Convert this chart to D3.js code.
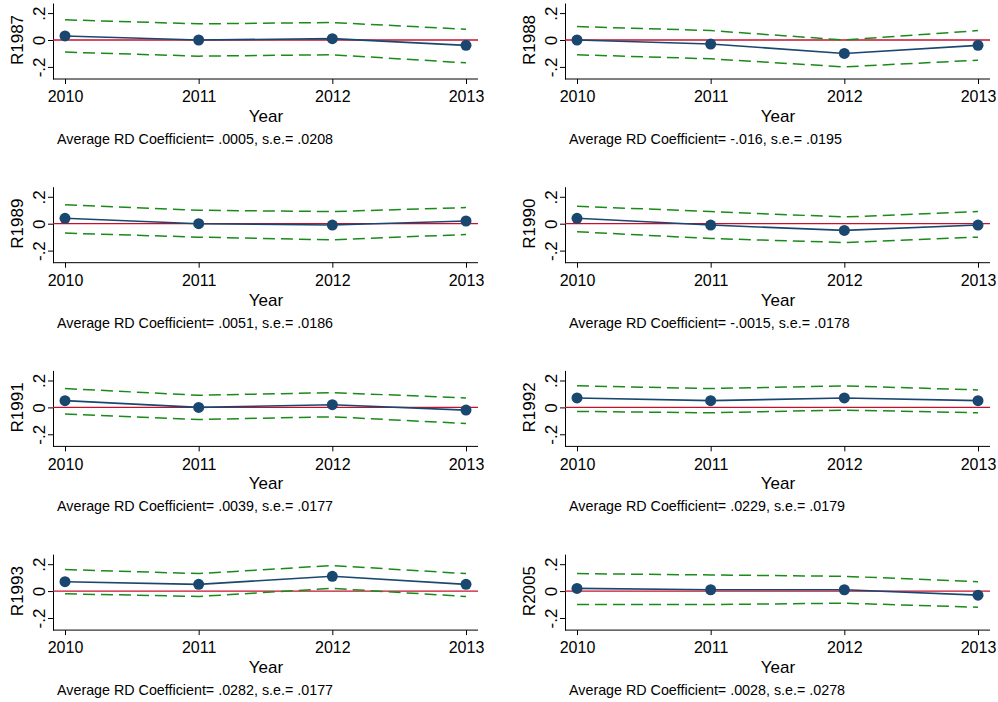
<!DOCTYPE html><html><head><meta charset="utf-8"><script src="https://cdn.jsdelivr.net/npm/d3@7"></script>
<style>body{margin:0;background:#fff}text{font-family:"Liberation Sans",Arial,sans-serif}</style></head><body>
<svg id="c" width="998" height="702"></svg>
<script>
const years=[2010,2011,2012,2013];
const names=["R1987","R1988","R1989","R1990","R1991","R1992","R1993","R2005"];
const coef=[[.03,0,.01,-.04],[0,-.03,-.1,-.04],[.04,0,-.01,.02],[.04,-.01,-.05,-.01],[.05,0,.02,-.02],[.07,.05,.07,.05],[.07,.05,.11,.05],[.02,.01,.01,-.03]];
const upper=[[.15,.12,.13,.08],[.1,.07,0,.07],[.14,.1,.09,.12],[.13,.09,.05,.09],[.14,.09,.11,.07],[.16,.14,.16,.13],[.16,.13,.19,.13],[.13,.12,.11,.07]];
const lower=[[-.09,-.12,-.11,-.17],[-.11,-.14,-.2,-.15],[-.07,-.1,-.12,-.08],[-.06,-.11,-.14,-.1],[-.05,-.09,-.07,-.12],[-.03,-.04,-.02,-.04],[-.02,-.04,.02,-.04],[-.1,-.1,-.09,-.12]];
const notes=["Average RD Coefficient= .0005, s.e.= .0208","Average RD Coefficient= -.016, s.e.= .0195","Average RD Coefficient= .0051, s.e.= .0186","Average RD Coefficient= -.0015, s.e.= .0178","Average RD Coefficient= .0039, s.e.= .0177","Average RD Coefficient= .0229, s.e.= .0179","Average RD Coefficient= .0282, s.e.= .0177","Average RD Coefficient= .0028, s.e.= .0278"];
const yTicks=[-.2,0,.2];
const yLab=d=>d===0?"0":(d<0?"-":"")+"."+Math.round(Math.abs(d)*10);
const svg=d3.select("#c");
names.forEach((nm,i)=>{
  const col=i%2,row=Math.floor(i/2);
  const ox=col*512,oy=row*183.7;
  const g=svg.append("g").attr("transform",`translate(${ox},${oy})`);
  const x=d3.scaleLinear().domain([2010,2013]).range([65,466]);
  const y=d3.scaleLinear().domain([-.29,.275]).range([79,3]);
  const ya=g.append("g").attr("transform","translate(53,0)").call(d3.axisLeft(y).tickValues(yTicks).tickFormat(yLab).tickSize(5).tickSizeOuter(0));
  ya.selectAll("text").attr("transform","rotate(-90)").attr("x",0).attr("y",-8).attr("dy","0").style("text-anchor","middle").style("font-size","17px").attr("fill","#000");
  const xa=g.append("g").attr("transform","translate(0,79)").call(d3.axisBottom(x).tickValues(years).tickFormat(d3.format("d")).tickSize(5).tickSizeOuter(0));
  xa.select(".domain").attr("d","M53,0H478");
  xa.selectAll("text").style("font-size","16px").attr("fill","#000").attr("dy","0.95em");
  g.selectAll(".domain,.tick line").attr("stroke","#000");
  g.append("text").attr("x",266).attr("y",122).attr("text-anchor","middle").style("font-size","17px").text("Year");
  g.append("text").attr("transform","rotate(-90)").attr("x",-y(0)).attr("y",23).attr("text-anchor","middle").style("font-size","17px").text(nm);
  g.append("text").attr("x",57).attr("y",144).style("font-size","14.3px").text(notes[i]);
  g.append("line").attr("x1",53).attr("x2",478).attr("y1",y(0)).attr("y2",y(0)).attr("stroke","#c8102e").attr("stroke-width",1.3);
  const ln=d3.line().x((d,j)=>x(years[j])).y(d=>y(d));
  [upper[i],lower[i]].forEach(a=>g.append("path").attr("d",ln(a)).attr("fill","none").attr("stroke","#1a8a1a").attr("stroke-width",1.5).attr("stroke-dasharray","12,6"));
  g.append("path").attr("d",ln(coef[i])).attr("fill","none").attr("stroke","#1a476f").attr("stroke-width",1.6);
  g.selectAll("circle").data(coef[i]).join("circle").attr("cx",(d,j)=>x(years[j])).attr("cy",d=>y(d)).attr("r",5.5).attr("fill","#1a476f");
});
</script></body></html>
